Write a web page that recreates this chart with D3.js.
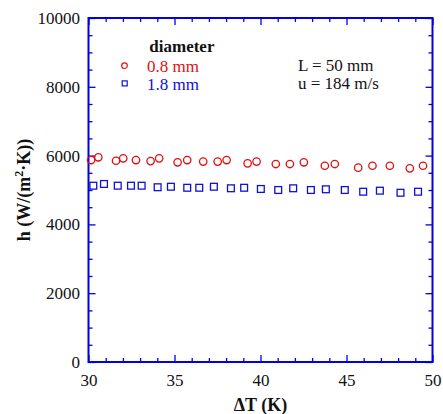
<!DOCTYPE html>
<html>
<head>
<meta charset="utf-8">
<script src="https://cdn.jsdelivr.net/npm/d3@7"></script>
<style>
  body { margin: 0; background: #fff; }
  svg { display: block; }
</style>
</head>
<body>
<svg id="chart" width="443" height="414" font-family="Liberation Serif, Times New Roman, serif"></svg>
<script>
// diameter 0.8 mm
const dT08 = [30.15, 30.57, 31.60, 32.02, 32.76, 33.61, 34.11, 35.18, 35.74, 36.67, 37.51, 38.03,
  39.25, 39.77, 40.89, 41.71, 42.52, 43.74, 44.32, 45.68, 46.51, 47.52, 48.68, 49.45]
const h08 = [5870, 5950, 5850, 5920, 5870, 5840, 5920, 5805, 5870, 5825, 5825, 5870,
  5775, 5825, 5755, 5755, 5805, 5705, 5755, 5650, 5705, 5705, 5630, 5705]

// diameter 1.8 mm
const dT18 = [30.28, 30.90, 31.70, 32.47, 33.09, 34.02, 34.79, 35.74, 36.44, 37.29, 38.28,
  39.05, 40.02, 41.03, 41.90, 42.93, 43.80, 44.90, 45.97, 46.94, 48.14, 49.16]
const h18 = [5125, 5175, 5125, 5125, 5125, 5080, 5095, 5065, 5065, 5095, 5050,
  5065, 5030, 5000, 5050, 5000, 5020, 5000, 4950, 4980, 4920, 4950]

const xMajor = [30, 35, 40, 45, 50]
const yMajor = [0, 2000, 4000, 6000, 8000, 10000]

const legendItems = [
  { label: '0.8 mm', shape: 'circle', color: '#e01010' },
  { label: '1.8 mm', shape: 'square', color: '#1010d8' }
]
const infoLines = ['L = 50 mm', 'u = 184 m/s']

const serif = 'Liberation Serif, Times New Roman, serif'
const axisColor = '#0000e0'
const margin = { top: 18, right: 10.5, bottom: 52, left: 88.5 }
const svg = d3.select('#chart')
const width = +svg.attr('width') - margin.left - margin.right
const height = +svg.attr('height') - margin.top - margin.bottom

const g = svg.append('g').attr('transform', 'translate(' + margin.left + ',' + margin.top + ')')

const x = d3.scaleLinear().domain([30, 50]).range([0, width])
const y = d3.scaleLinear().domain([0, 10000]).range([height, 0])

function styleAxis (sel) {
  sel.attr('font-family', serif).attr('font-size', 17)
  sel.select('.domain').remove()
  sel.selectAll('.tick line').attr('stroke', axisColor).attr('stroke-width', 1.3)
  sel.selectAll('.tick text').attr('fill', '#111')
}

// minor ticks
const xMinor = d3.range(31, 50, 1).filter(function (v) { return v % 5 !== 0 })
const yMinor = d3.range(500, 10000, 500).filter(function (v) { return v % 2000 !== 0 })

g.append('g').attr('transform', 'translate(0,' + height + ')')
  .call(d3.axisBottom(x).tickValues(xMinor).tickFormat('').tickSize(-4)).call(styleAxis)
g.append('g')
  .call(d3.axisTop(x).tickValues(xMinor).tickFormat('').tickSize(-4)).call(styleAxis)
g.append('g')
  .call(d3.axisLeft(y).tickValues(yMinor).tickFormat('').tickSize(-4)).call(styleAxis)
g.append('g').attr('transform', 'translate(' + width + ',0)')
  .call(d3.axisRight(y).tickValues(yMinor).tickFormat('').tickSize(-4)).call(styleAxis)

// major ticks
g.append('g').attr('transform', 'translate(0,' + height + ')')
  .call(d3.axisBottom(x).tickValues(xMajor).tickFormat(d3.format('d')).tickSize(-7).tickPadding(12))
  .call(styleAxis)
g.append('g')
  .call(d3.axisTop(x).tickValues(xMajor).tickFormat('').tickSize(-7)).call(styleAxis)
g.append('g')
  .call(d3.axisLeft(y).tickValues(yMajor).tickFormat(d3.format('d')).tickSize(-7).tickPadding(8.5))
  .call(styleAxis)
g.append('g').attr('transform', 'translate(' + width + ',0)')
  .call(d3.axisRight(y).tickValues(yMajor).tickFormat('').tickSize(-7)).call(styleAxis)

// frame
g.append('rect')
  .attr('width', width)
  .attr('height', height)
  .attr('fill', 'none')
  .attr('stroke', axisColor)
  .attr('stroke-width', 2)

// data
g.append('g').selectAll('circle')
  .data(dT08)
  .enter().append('circle')
  .attr('cx', function (d) { return x(d) })
  .attr('cy', function (d, i) { return y(h08[i]) })
  .attr('r', 3.7)
  .attr('fill', 'none')
  .attr('stroke', legendItems[0].color)
  .attr('stroke-width', 1.3)

const sq = 6.8
g.append('g').selectAll('rect')
  .data(dT18)
  .enter().append('rect')
  .attr('x', function (d) { return x(d) - sq / 2 })
  .attr('y', function (d, i) { return y(h18[i]) - sq / 2 })
  .attr('width', sq)
  .attr('height', sq)
  .attr('fill', 'none')
  .attr('stroke', legendItems[1].color)
  .attr('stroke-width', 1.3)

// legend
svg.append('text')
  .attr('x', 149.3)
  .attr('y', 51.7)
  .attr('font-size', 17)
  .attr('font-weight', 'bold')
  .attr('fill', '#111')
  .text('diameter')

const legend = svg.append('g').selectAll('g')
  .data(legendItems)
  .enter().append('g')
  .attr('transform', function (d, i) { return 'translate(0,' + (71.7 + i * 18) + ')' })

legend.each(function (d) {
  const item = d3.select(this)
  if (d.shape === 'circle') {
    item.append('circle').attr('cx', 124.5).attr('cy', -6).attr('r', 2.8)
      .attr('fill', 'none').attr('stroke', d.color).attr('stroke-width', 1.2)
  } else {
    item.append('rect').attr('x', 122.2).attr('y', -8.8).attr('width', 5).attr('height', 5)
      .attr('fill', 'none').attr('stroke', d.color).attr('stroke-width', 1.2)
  }
  item.append('text')
    .attr('x', 147)
    .attr('y', 0)
    .attr('font-size', 17)
    .attr('fill', d.color)
    .text(d.label)
})

svg.append('g').selectAll('text')
  .data(infoLines)
  .enter().append('text')
  .attr('x', 298)
  .attr('y', function (d, i) { return 71 + i * 17.6 })
  .attr('font-size', 17)
  .attr('fill', '#111')
  .text(function (d) { return d })

// axis titles
svg.append('text')
  .attr('x', margin.left + width / 2)
  .attr('y', 411)
  .attr('text-anchor', 'middle')
  .attr('font-size', 18)
  .attr('font-weight', 'bold')
  .attr('fill', '#111')
  .text('ΔT (K)')

const yTitle = svg.append('text')
  .attr('transform', 'translate(30,' + (margin.top + height / 2) + ') rotate(-90)')
  .attr('text-anchor', 'middle')
  .attr('font-size', 18)
  .attr('font-weight', 'bold')
  .attr('fill', '#111')
yTitle.append('tspan').text('h (W/(m')
yTitle.append('tspan').attr('dy', -7).attr('font-size', 12).text('2')
yTitle.append('tspan').attr('dy', 7).text('·K))')
</script>
</body>
</html>
